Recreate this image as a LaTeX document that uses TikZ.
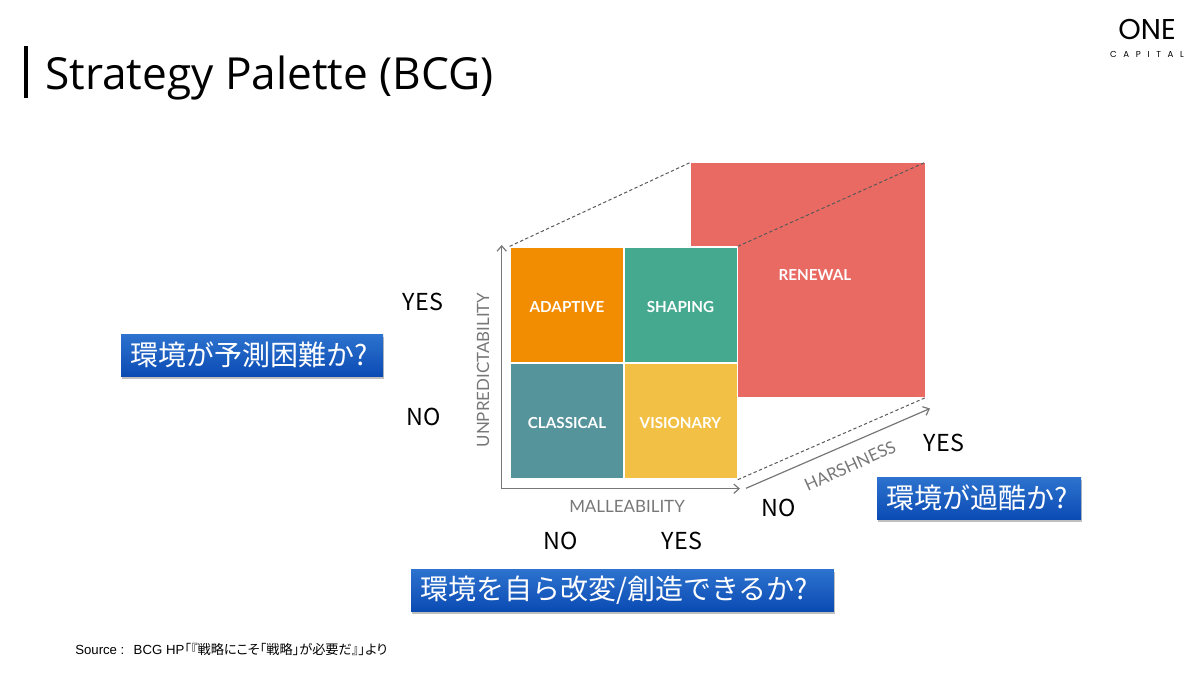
\documentclass[tikz,border=0pt]{standalone}
\usepackage{fontspec}
\setmainfont{Open Sans}
\newfontfamily\jpfont{Noto Sans CJK JP}
\newfontfamily\jpsrcfont[RawFeature=+palt]{Noto Sans CJK JP}
\newfontfamily\cellfont{Lato}
\newfontfamily\logofont{Poppins}
\newfontfamily\srcfont{Liberation Sans}
\usetikzlibrary{shadows,arrows.meta}
\definecolor{orangecell}{HTML}{F28C00}
\definecolor{greencell}{HTML}{45A98F}
\definecolor{tealcell}{HTML}{56949C}
\definecolor{yellowcell}{HTML}{F2C044}
\definecolor{redcell}{HTML}{E96A63}
\definecolor{axisgray}{HTML}{777777}
\definecolor{blue1}{HTML}{2E73CF}
\definecolor{blue2}{HTML}{0A4BB3}
\tikzset{
  cell/.style={draw=white,line width=1pt,minimum width=85pt,minimum height=87pt,inner sep=0pt,text=white,text height=10.8pt,text depth=0pt,font=\cellfont\bfseries\fontsize{11.4}{14}\selectfont},
  axis/.style={draw=axisgray,line width=0.9pt,-{Straight Barb[length=4pt,width=7pt]}},
  guide/.style={draw=black!65,dash pattern=on 2.5pt off 1.8pt,line width=0.75pt},
  axislabel/.style={text=axisgray,inner sep=0pt,font=\cellfont\fontsize{12.7}{15}\selectfont},
  answer/.style={inner sep=0pt,font=\jpfont\fontsize{17.5}{20}\selectfont},
  question/.style={inner xsep=7pt,inner ysep=0pt,align=left,text=white,top color=blue1,bottom color=blue2,minimum height=31.5pt,
    font=\jpfont\fontsize{21}{24}\selectfont,drop shadow={shadow xshift=0.5pt,shadow yshift=-2pt,opacity=0.5}},
}
\begin{document}
\begin{tikzpicture}[x=0.75pt,y=-0.75pt]
    \useasboundingbox (0,0) rectangle (1200,674);
    % title and logo
    \fill (23.5,46) rectangle (27.5,98);
    \node (title) [anchor=west,inner sep=0pt,font=\fontsize{33.15}{38}\selectfont] at (45,78) {Strategy Palette (BCG)};
    \node (logo) [inner sep=0pt,font=\logofont\fontsize{21.5}{24}\selectfont] at (1147,29) {ONE};
    \node (capital) [inner sep=0pt,font=\logofont\fontsize{6.5}{8}\selectfont] at (1147,54) {C\hspace{5pt}A\hspace{5pt}P\hspace{5pt}I\hspace{5pt}T\hspace{5pt}A\hspace{5pt}L};
    % palette
    \node (renewal) [fill=redcell,minimum width=175.5pt,minimum height=176.2pt,inner sep=0pt] at (808,280) {};
    \node (renewaltext) [text=white,inner sep=0pt,font=\cellfont\bfseries\fontsize{11.4}{14}\selectfont] at (815,275) {RENEWAL};
    \node (adaptive) [cell,fill=orangecell] at (567,305) {ADAPTIVE};
    \node (shaping) [cell,fill=greencell] at (680.5,305) {SHAPING};
    \node (classical) [cell,fill=tealcell] at (567,421) {CLASSICAL};
    \node (visionary) [cell,fill=yellowcell] at (680.5,421) {VISIONARY};
    \draw[guide] (adaptive.north west) -- (renewal.north west);
    \draw[guide] (shaping.north east) -- (renewal.north east);
    \draw[guide] (visionary.south east) -- (renewal.south east);
    % axes
    \coordinate (origin) at (501.7,488.7);
    \coordinate (topend) at (501.7,245);
    \coordinate (rightend) at (740,488.7);
    \coordinate (harshstart) at (746,488.3);
    \coordinate (harshend) at (930,408.5);
    \draw[axis] (origin) -- (topend);
    \draw[axis] (origin) -- (rightend);
    \draw[axis] (harshstart) -- (harshend);
    \node (unpred) [axislabel,rotate=90] at (483,370) {UNPREDICTABILITY};
    \node (malle) [axislabel] at (627,506) {MALLEABILITY};
    \node (harsh) [axislabel,rotate=24.4] at (850,466) {HARSHNESS};
    % answers
    \node (yes1) [answer] at (423,302) {YES};
    \node (no1) [answer] at (424,417) {NO};
    \node (no2) [answer] at (561,541) {NO};
    \node (yes2) [answer] at (682,541) {YES};
    \node (no3) [answer] at (779,508) {NO};
    \node (yes3) [answer] at (944,443) {YES};
    % questions
    \node (q1) [question,text width=182.5pt] at (252,355) {環境が予測困難か?};
    \node (q2) [question,text width=139pt] at (979,498) {環境が過酷か?};
    \node (q3) [question,text width=303pt] at (622.5,590) {環境を自ら改変/創造できるか?};
    % source
    \node (source) [anchor=west,inner sep=0pt,font=\srcfont\fontsize{9.9}{12}\selectfont] at (75,649) {Source :\hspace{7pt}BCG HP{\jpsrcfont「『戦略にこそ「戦略」が必要だ』」より}};
\end{tikzpicture}
\end{document}
